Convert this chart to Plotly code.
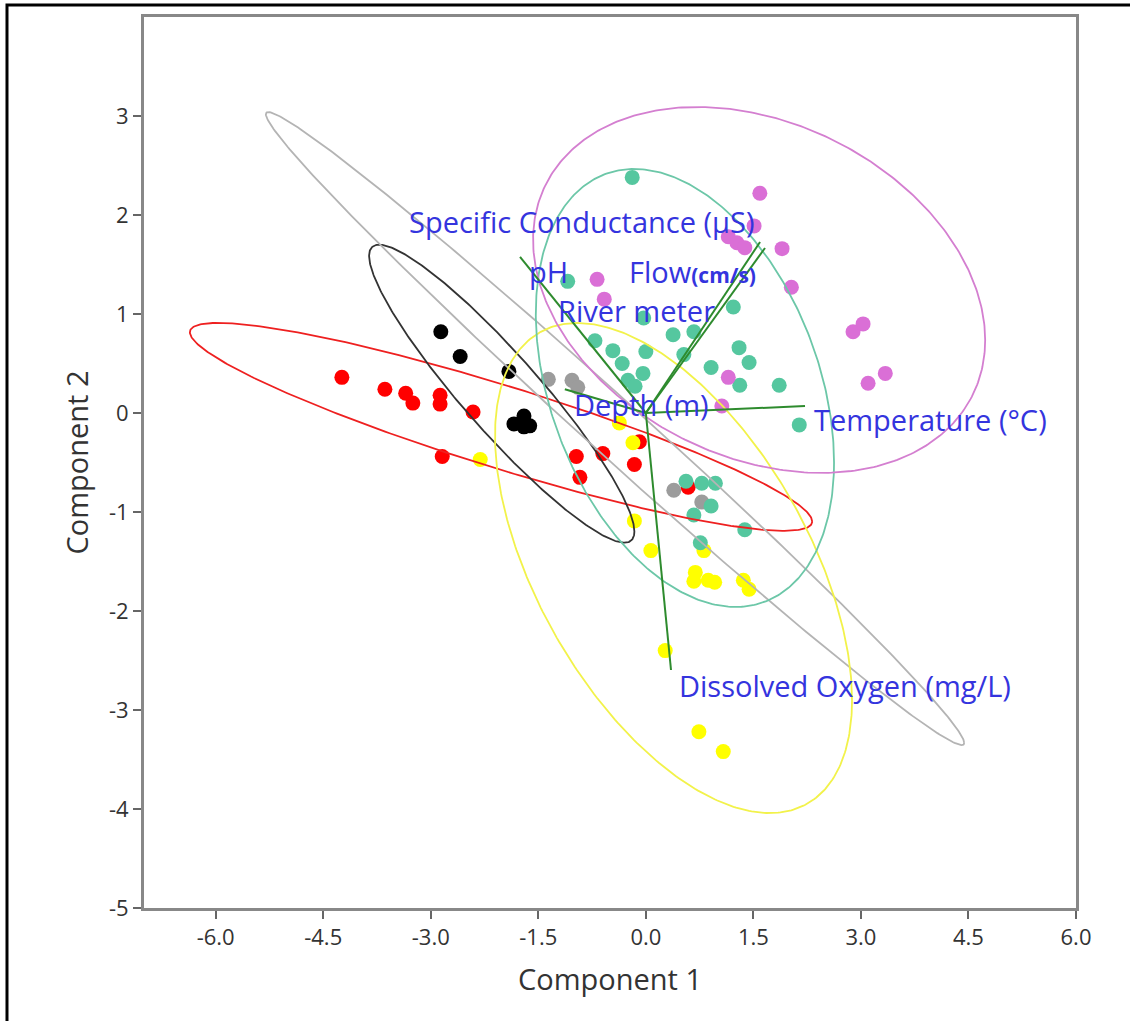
import numpy as np
import plotly.graph_objects as go

# ---------------- data ----------------
red_x = [-4.24, -3.64, -3.35, -3.25, -2.87, -2.87, -2.41, -2.84, -0.97, -0.92, -0.60, -0.16, -0.09, 0.59]
red_y = [0.36, 0.24, 0.20, 0.10, 0.18, 0.09, 0.01, -0.44, -0.44, -0.65, -0.41, -0.52, -0.29, -0.75]

yellow_x = [-2.31, -0.37, -0.18, -0.16, 0.07, 0.81, 0.69, 0.67, 0.87, 0.96, 1.36, 1.44, 0.27, 0.74, 1.08]
yellow_y = [-0.47, -0.10, -0.30, -1.09, -1.39, -1.39, -1.61, -1.70, -1.69, -1.71, -1.69, -1.78, -2.40, -3.22, -3.42]

black_x = [-2.86, -2.59, -1.91, -1.84, -1.70, -1.62, -1.70]
black_y = [0.82, 0.57, 0.42, -0.11, -0.03, -0.13, -0.14]

gray_x = [-1.36, -1.03, -0.95, 0.39, 0.78]
gray_y = [0.34, 0.33, 0.26, -0.78, -0.90]

teal_x = [-0.19, -1.09, 1.22, -0.03, 0.38, 0.67, -0.71, -0.46, 0.00, 1.30, 1.44, -0.33, 0.53,
          -0.04, 0.91, -0.25, -0.15, 1.31, 1.86, 2.14, 0.56, 0.78, 0.97, 0.91, 0.67, 1.38, 0.76]
teal_y = [2.38, 1.33, 1.07, 0.96, 0.79, 0.82, 0.73, 0.63, 0.62, 0.66, 0.51, 0.50, 0.59,
          0.40, 0.46, 0.33, 0.27, 0.28, 0.28, -0.12, -0.69, -0.71, -0.71, -0.94, -1.03, -1.18, -1.31]

magenta_x = [1.59, 1.51, 1.15, 1.27, 1.38, 1.90, 2.03, -0.68, -0.58, 2.89, 3.03, 3.10, 3.34, 1.15, 1.06]
magenta_y = [2.22, 1.89, 1.78, 1.72, 1.67, 1.66, 1.27, 1.35, 1.15, 0.82, 0.90, 0.30, 0.40, 0.36, 0.07]

# ellipse parameters per group: centre, half-extents, shape (cos of phase)
ell_names = ["red", "black", "gray", "yellow", "teal", "magenta"]
ell_cx = [-2.02, -2.01, -0.43, 0.386, 0.545, 1.58]
ell_cy = [-0.14, 0.195, -0.157, -1.566, 0.253, 1.243]
ell_rx = [4.34, 1.85, 4.87, 2.49, 2.08, 3.153]
ell_ry = [1.05, 1.505, 3.197, 2.475, 2.212, 1.848]
ell_c = [-0.91, -0.925, -0.993, -0.539, -0.34, -0.274]

# loading vectors
var_names = ["Specific Conductance (μS)", "Flow (cm/s)", "pH", "Depth (m)", "Temperature (°C)", "Dissolved Oxygen (mg/L)"]
load_x = [1.593, 1.662, -1.755, -1.13, 2.22, 0.351]
load_y = [1.727, 1.667, 1.576, 0.24, 0.07, -2.596]

# label texts and anchor positions (left edge, middle)
label_text = ["Specific Conductance (μS)", "pH",
              "Flow<b><span style='font-size:21px'>(cm/s)</span></b>",
              "River meter", "Depth (m)", "Temperature (°C)", "Dissolved Oxygen (mg/L)"]
label_x = [-3.33, -1.66, -0.263, -1.253, -1.03, 2.318, 0.435]
label_y = [1.93, 1.43, 1.43, 1.04, 0.09, -0.07, -2.75]

x_ticks = [-6.0, -4.5, -3.0, -1.5, 0.0, 1.5, 3.0, 4.5, 6.0]
y_ticks = [-5, -4, -3, -2, -1, 0, 1, 2, 3]

# ---------------- styling ----------------
point_colors = {"red": "#ff0000", "yellow": "#ffff00", "black": "#000000",
                "gray": "#9c9c9c", "teal": "#55c79f", "magenta": "#da6fd6"}
ell_colors = {"red": "#ee2020", "black": "#333333", "gray": "#b4b4b4",
              "yellow": "#f2f24a", "teal": "#6cc7a8", "magenta": "#d47fd0"}

fig = go.Figure()

groups = [("red", red_x, red_y), ("yellow", yellow_x, yellow_y), ("black", black_x, black_y),
          ("gray", gray_x, gray_y), ("teal", teal_x, teal_y), ("magenta", magenta_x, magenta_y)]
for name, xs, ys in groups:
    fig.add_trace(go.Scatter(x=xs, y=ys, mode="markers",
                             marker=dict(size=15, color=point_colors[name], line=dict(width=0)),
                             hoverinfo="skip"))

t = np.linspace(0, 2 * np.pi, 400)
for i, name in enumerate(ell_names):
    phi = np.arccos(ell_c[i])
    ex = ell_cx[i] + ell_rx[i] * np.cos(t)
    ey = ell_cy[i] + ell_ry[i] * np.cos(t - phi)
    fig.add_trace(go.Scatter(x=ex, y=ey, mode="lines",
                             line=dict(color=ell_colors[name], width=1.8), hoverinfo="skip"))

for i in range(len(var_names)):
    fig.add_trace(go.Scatter(x=[0, load_x[i]], y=[0, load_y[i]], mode="lines",
                             line=dict(color="#2e8b2e", width=2), hoverinfo="skip"))

for i, txt in enumerate(label_text):
    fig.add_annotation(x=label_x[i], y=label_y[i], text=txt, showarrow=False,
                       xanchor="left", yanchor="middle",
                       font=dict(family="Open Sans", size=29, color="#3434de"))

# outer black frame around the picture
fig.add_shape(type="rect", xref="paper", yref="paper",
              x0=-0.147, y0=-0.135, x1=1.065, y1=1.0135,
              line=dict(color="black", width=3), fillcolor="rgba(0,0,0,0)", layer="above")

fig.update_layout(
    width=1130, height=1021,
    margin=dict(l=144, r=54, t=17, b=113),
    paper_bgcolor="white", plot_bgcolor="white",
    showlegend=False,
    font=dict(family="Open Sans", color="#333333"),
)
fig.update_xaxes(range=[-7, 6], tickvals=x_ticks, ticktext=[f"{v:.1f}" for v in x_ticks],
                 showgrid=False, zeroline=False, showline=True, mirror=True,
                 linecolor="#888888", linewidth=3, ticks="outside", ticklen=8,
                 tickcolor="#666666", tickwidth=1.5, tickfont=dict(size=22, color="#333333"),
                 title=dict(text="Component 1", font=dict(size=29, color="#333333"), standoff=20))
fig.update_yaxes(range=[-5, 4], tickvals=y_ticks, ticktext=[str(v) for v in y_ticks],
                 showgrid=False, zeroline=False, showline=True, mirror=True,
                 linecolor="#888888", linewidth=3, ticks="outside", ticklen=8,
                 tickcolor="#666666", tickwidth=1.5, tickfont=dict(size=22, color="#333333"),
                 title=dict(text="Component 2", font=dict(size=29, color="#333333"), standoff=12))

fig.write_html("out.html")
